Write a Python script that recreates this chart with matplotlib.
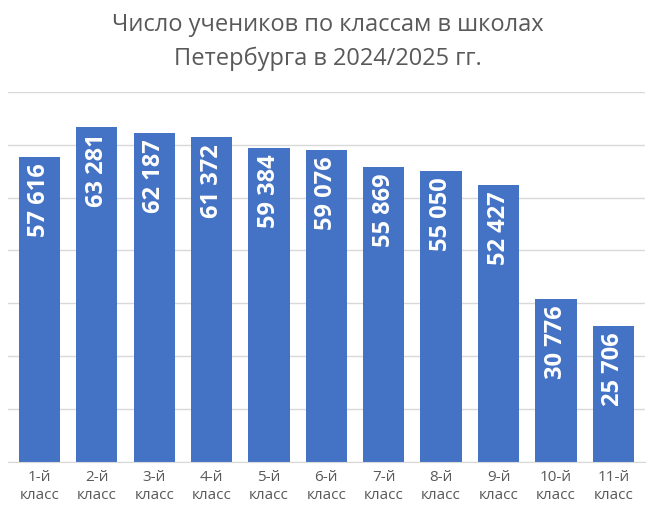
import matplotlib
matplotlib.use('Agg')
import matplotlib.pyplot as plt

grades = ['1-й\nкласс', '2-й\nкласс', '3-й\nкласс', '4-й\nкласс', '5-й\nкласс', '6-й\nкласс',
          '7-й\nкласс', '8-й\nкласс', '9-й\nкласс', '10-й\nкласс', '11-й\nкласс']
pupils = [57616, 63281, 62187, 61372, 59384, 59076, 55869, 55050, 52427, 30776, 25706]

plt.rcParams['font.family'] = ['Open Sans', 'DejaVu Sans']

fig = plt.figure(figsize=(6.56, 5.28), dpi=100)
ax = fig.add_axes([0.012, 0.125, 0.971, 0.701])
x = list(range(len(pupils)))
bars = ax.bar(x, pupils, width=0.72, color='#4472C4', zorder=2)

for b, v in zip(bars, pupils):
    txt = '{:,}'.format(v).replace(',', ' ')
    ax.text(b.get_x() + b.get_width() / 2, v - 1200, txt, rotation=90,
            ha='center', va='top', color='white', fontsize=17, fontweight='bold', zorder=3)

ax.set_ylim(0, 70000)
ax.set_xlim(-0.55, len(pupils) - 0.45)
ax.set_yticks(range(0, 70001, 10000))
ax.yaxis.grid(True, color='#d9d9d9', linewidth=1, zorder=0)
ax.tick_params(axis='y', left=False, labelleft=False)
ax.set_xticks(x)
ax.set_xticklabels(grades, color='#595959', fontsize=11)
ax.tick_params(axis='x', length=0, pad=6)
for s in ['left', 'right', 'top']:
    ax.spines[s].set_visible(False)
ax.spines['bottom'].set_color('#d9d9d9')

fig.suptitle('Число учеников по классам в школах\nПетербурга в 2024/2025 гг.',
             y=0.975, fontsize=17, color='#595959', linespacing=1.5)

fig.savefig('out.png', dpi=100)
